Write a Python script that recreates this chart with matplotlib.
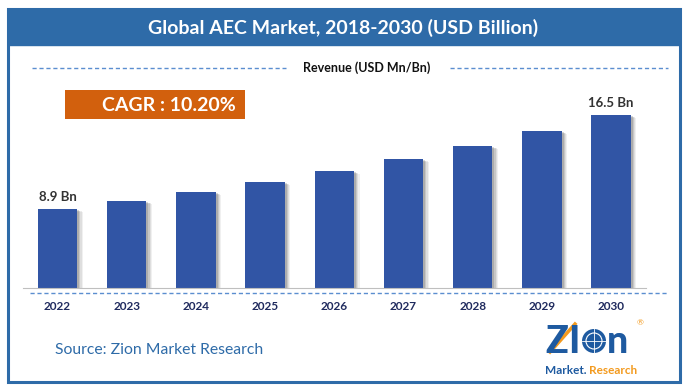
import numpy as np
import matplotlib.pyplot as plt
from matplotlib.patches import Rectangle, Circle

# ------ datos ------
years   = ['2022', '2023', '2024', '2025', '2026', '2027', '2028', '2029', '2030']
revenue = [8.9, 9.55, 10.27, 11.08, 11.97, 12.94, 13.99, 15.2, 16.5]
labels  = {0: '8.9 Bn', 8: '16.5 Bn'}
cagr    = 'CAGR : 10.20%'

W, H = 687, 389
BLUE  = '#2E6BA8'
BAR   = '#3155A5'
NAVY  = '#1F2A5E'

plt.rcParams['font.family'] = ['Lato', 'DejaVu Sans']

fig = plt.figure(figsize=(W / 100, H / 100), dpi=100)
fig.patch.set_facecolor('white')

# capa de fondo en pixeles
bg = fig.add_axes([0, 0, 1, 1])
bg.set_xlim(0, W)
bg.set_ylim(H, 0)
bg.axis('off')

bg.add_patch(Rectangle((8, 9), 672, 373, fill=False, ec=BLUE, lw=2.2))
bg.add_patch(Rectangle((8, 9), 672, 36, fc=BLUE, ec=BLUE))
bg.text(343, 28, 'Global AEC Market, 2018-2030 (USD Billion)', color='white',
        fontsize=14, fontweight='bold', ha='center', va='center')

# lineas punteadas y leyenda
bg.plot([32, 286], [68, 68], ls=(0, (3, 2)), color='#5B8ED0', lw=1)
bg.plot([450, 668], [68, 68], ls=(0, (3, 2)), color='#5B8ED0', lw=1)
bg.text(367, 68, 'Revenue (USD Mn/Bn)', fontsize=9, fontweight='bold',
        ha='center', va='center', color='#111111')
bg.plot([30, 668], [293, 293], ls=(0, (3, 2)), color='#5B8ED0', lw=1)

# caja CAGR
bg.add_patch(Rectangle((65, 90), 180, 29, fc='#D2600D', ec='none'))
bg.text(169, 105, cagr, color='white', fontsize=14, fontweight='bold',
        ha='center', va='center')

bg.text(55, 350, 'Source: Zion Market Research', color=BLUE, fontsize=11.3,
        ha='left', va='center')

# logo aproximado
LB = '#1E5AA0'
bg.text(545, 342, 'Z', color=LB, fontsize=27, fontweight='black', ha='left', va='center')
bg.text(568, 342, 'I', color=LB, fontsize=27, fontweight='black', ha='left', va='center')
bg.add_patch(Circle((594, 341), 12, fc=LB, ec='none'))
bg.add_patch(Circle((594, 341), 8, fc='none', ec='white', lw=0.8))
bg.plot([582, 606], [341, 341], color='white', lw=0.6)
bg.plot([594, 594], [329, 353], color='white', lw=0.6)
bg.text(607, 342, 'n', color=LB, fontsize=27, fontweight='black', ha='left', va='center')
bg.plot([550, 575], [352, 324], color='#F39A1E', lw=2.5)
bg.text(545, 371, 'Market.', color=LB, fontsize=8.5, fontweight='bold', ha='left', va='center')
bg.text(589, 371, 'Research', color='#F39A1E', fontsize=8.5, fontweight='bold', ha='left', va='center')
bg.text(640, 323, '®', color='#F39A1E', fontsize=6, ha='center', va='center')

# ------ grafico de barras ------
left, right, bottom, top = 22.9, 645.7, 288, 100
ax = fig.add_axes([left / W, 1 - bottom / H, (right - left) / W, (bottom - top) / H])
ax.set_facecolor('none')
v0 = 2.51
ax.set_ylim(v0, v0 + (bottom - top) / 12.37)
ax.set_xlim(-0.5, 8.5)

x = np.arange(len(years))
h = np.array(revenue) - v0
# sombra de las barras
for k, a in enumerate([0.08, 0.10, 0.14, 0.20]):
    off = 0.08 - k * 0.017
    ax.bar(x + off, h - 0.25 + k * 0.05, width=0.57, bottom=v0,
           color='#404040', alpha=a, zorder=1)
ax.bar(x, h, width=0.57, bottom=v0, color=BAR, zorder=2)

for i, t in labels.items():
    ax.text(x[i], revenue[i] + 0.45, t, ha='center', va='bottom', fontsize=9.5,
            fontweight='bold', color='#333333')

for s in ['top', 'right', 'left']:
    ax.spines[s].set_visible(False)
ax.spines['bottom'].set_color('#BFBFBF')
ax.set_yticks([])
ax.set_xticks(x)
ax.set_xticklabels(years, fontsize=8.5, fontweight='bold', color=NAVY)
ax.tick_params(axis='x', length=0, pad=9)

fig.savefig('out.png', dpi=100)
